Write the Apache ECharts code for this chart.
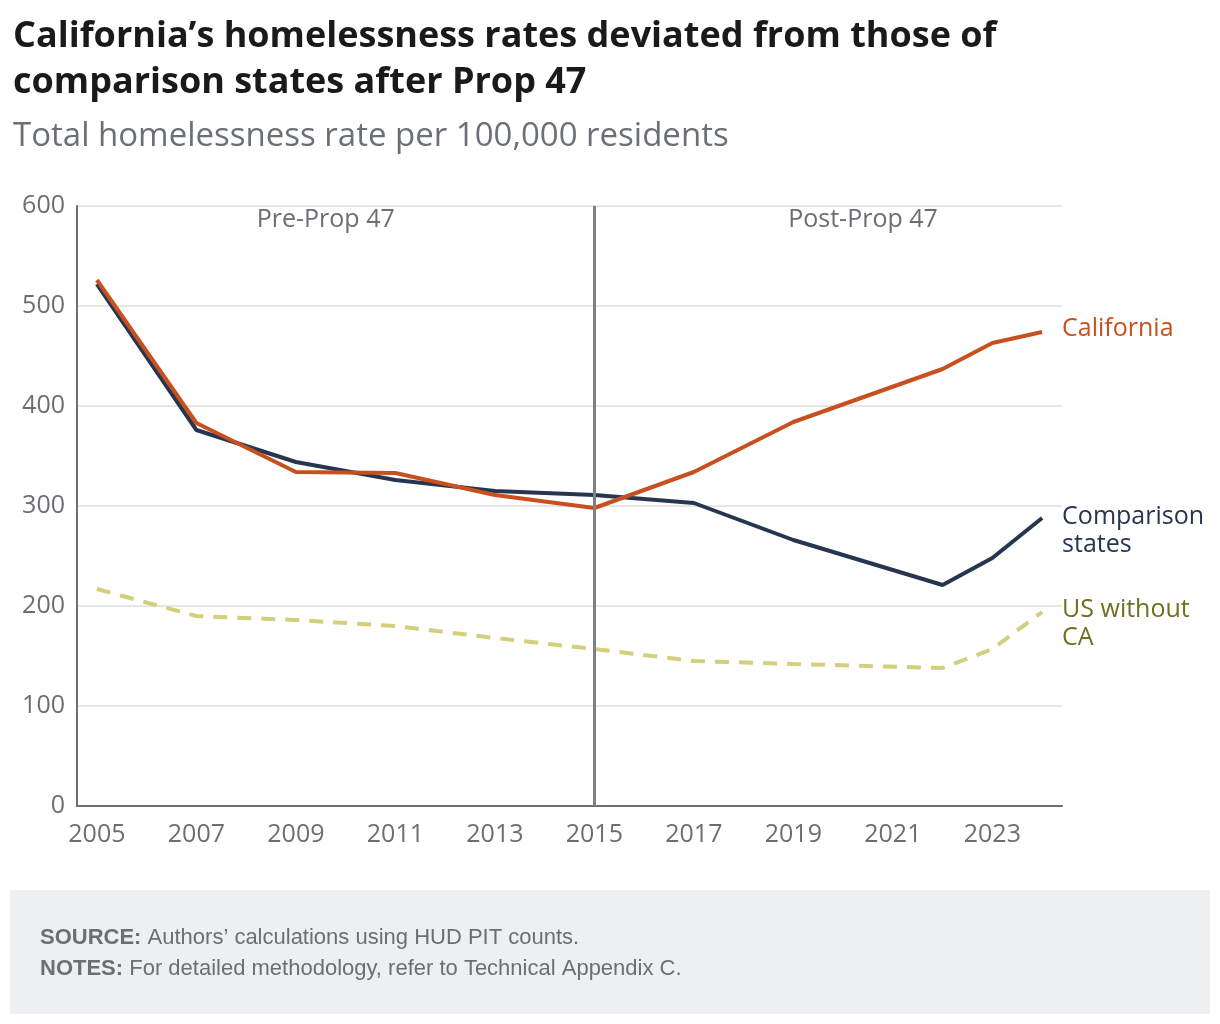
<!DOCTYPE html>
<html>
<head>
<meta charset="utf-8">
<script src="https://cdn.jsdelivr.net/npm/echarts@6/dist/echarts.min.js"></script>
<style>
  html, body { margin: 0; padding: 0; background: #fff; }
  #chart { width: 1220px; height: 1024px; }
</style>
</head>
<body>
<div id="chart"></div>
<script>
// data
const years = [2005, 2007, 2009, 2011, 2013, 2015, 2017, 2019, 2022, 2023, 2024]
const california = [526, 383, 334, 333, 311, 298, 334, 384, 437, 463, 474]
const comparison = [522, 376, 344, 326, 315, 311, 303, 266, 221, 248, 288]
const usWithoutCA = [217, 190, 186, 180, 168, 157, 145, 142, 138, 157, 194]
const yearTicks = [2005, 2007, 2009, 2011, 2013, 2015, 2017, 2019, 2021, 2023]
const propYear = 2015

const FONT = 'Open Sans'
const NOTE_FONT = 'Liberation Sans'
const GREY = '#6d6e73'

const pairs = arr => years.map((y, i) => [y, arr[i]])

const chart = echarts.init(document.getElementById('chart'))

chart.setOption({
  animation: false,
  backgroundColor: '#fff',
  title: [
    {
      text: 'California\u2019s homelessness rates deviated from those of\ncomparison states after Prop 47',
      left: 8, top: 9,
      textStyle: { fontFamily: FONT, fontWeight: 'bold', fontSize: 36, color: '#1a1a1a', lineHeight: 46 }
    },
    {
      text: 'Total homelessness rate per 100,000 residents',
      left: 8, top: 115,
      textStyle: { fontFamily: FONT, fontWeight: 'normal', fontSize: 33, color: '#6b6f76' }
    }
  ],
  grid: { left: 77, right: 158, top: 206, bottom: 218, containLabel: false },
  xAxis: {
    type: 'value',
    min: 2004.6,
    max: 2024.4,
    axisLine: { show: true, lineStyle: { color: GREY, width: 2 } },
    axisTick: { show: false },
    splitLine: { show: false },
    axisLabel: {
      customValues: yearTicks,
      color: GREY, fontFamily: FONT, fontSize: 25, margin: 16,
      formatter: v => String(v)
    }
  },
  yAxis: {
    type: 'value',
    min: 0, max: 600, interval: 100,
    axisLine: { show: true, lineStyle: { color: GREY, width: 2 } },
    axisTick: { show: false },
    splitLine: { lineStyle: { color: '#e6e6e6', width: 2 } },
    axisLabel: { color: GREY, fontFamily: FONT, fontSize: 25, margin: 12 }
  },
  graphic: [
    {
      type: 'rect', left: 10, top: 890, z: -1,
      shape: { width: 1200, height: 124 },
      style: { fill: '#eeeff1' }
    },
    {
      type: 'text', left: 40, top: 927,
      style: {
        text: '{b|SOURCE:} Authors\u2019 calculations using HUD PIT counts.',
        rich: { b: { fontWeight: 'bold', fontFamily: NOTE_FONT, fontSize: 22, fill: '#6d6e71' } },
        fontFamily: NOTE_FONT, fontSize: 22, fill: '#6d6e71'
      }
    },
    {
      type: 'text', left: 40, top: 958,
      style: {
        text: '{b|NOTES:} For detailed methodology, refer to Technical Appendix C.',
        rich: { b: { fontWeight: 'bold', fontFamily: NOTE_FONT, fontSize: 22, fill: '#6d6e71' } },
        fontFamily: NOTE_FONT, fontSize: 22, fill: '#6d6e71'
      }
    }
  ],
  series: [
    {
      name: 'US without CA',
      type: 'line',
      data: pairs(usWithoutCA),
      symbol: 'none',
      lineStyle: { color: '#d3cf7b', width: 4, type: [14, 10] },
      endLabel: {
        show: true, formatter: 'US without\nCA', distance: 20, offset: [0, 12],
        color: '#6f7020', fontFamily: FONT, fontSize: 25, lineHeight: 28, align: 'left'
      },
      z: 2
    },
    {
      name: 'Comparison states',
      type: 'line',
      data: pairs(comparison),
      symbol: 'none',
      lineStyle: { color: '#263550', width: 4 },
      endLabel: {
        show: true, formatter: 'Comparison\nstates', distance: 20, offset: [0, 13],
        color: '#263550', fontFamily: FONT, fontSize: 25, lineHeight: 28, align: 'left'
      },
      z: 3
    },
    {
      name: 'California',
      type: 'line',
      data: pairs(california),
      symbol: 'none',
      lineStyle: { color: '#c8501e', width: 4 },
      endLabel: {
        show: true, formatter: 'California', distance: 20, offset: [0, -3],
        color: '#c8501e', fontFamily: FONT, fontSize: 25, align: 'left'
      },
      markLine: {
        silent: true,
        symbol: 'none',
        label: { show: false },
        lineStyle: { color: '#808080', width: 3, type: 'solid' },
        data: [{ xAxis: propYear }]
      },
      markPoint: {
        silent: true,
        symbol: 'rect', symbolSize: 0,
        label: { show: true, color: GREY, fontFamily: FONT, fontSize: 25, position: 'inside', offset: [0, 14] },
        data: [
          { coord: [2009.6, 600], value: 'Pre-Prop 47', label: { formatter: 'Pre-Prop 47' } },
          { coord: [2020.4, 600], value: 'Post-Prop 47', label: { formatter: 'Post-Prop 47' } }
        ]
      },
      z: 4
    }
  ]
})
</script>
</body>
</html>
